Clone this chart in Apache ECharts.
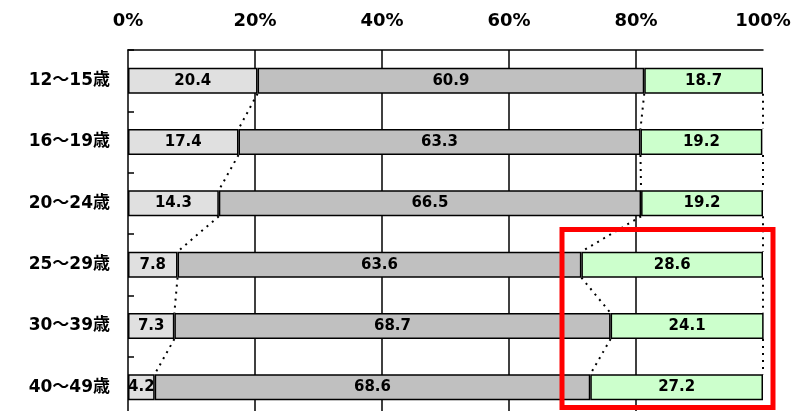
<!DOCTYPE html>
<html>
<head>
<meta charset="utf-8">
<script src="https://cdn.jsdelivr.net/npm/echarts@6/dist/echarts.min.js"></script>
<style>
  html, body { margin: 0; padding: 0; background: #fff; }
  #main { width: 796px; height: 411px; }
</style>
</head>
<body>
<div id="main"></div>
<script>
var categories = ['12～15歳', '16～19歳', '20～24歳', '25～29歳', '30～39歳', '40～49歳'];
var part1 = [20.4, 17.4, 14.3, 7.8, 7.3, 4.2];
var part2 = [60.9, 63.3, 66.5, 63.6, 68.7, 68.6];
var part3 = [18.7, 19.2, 19.2, 28.6, 24.1, 27.2];

var FONT = '"DejaVu Sans", "Noto Sans CJK JP", sans-serif';
var BAR_W = 26;

var chartDom = document.getElementById('main');
var myChart = echarts.init(chartDom);
var option;

// boundaries between segments for each row
function edges(i) {
  return [part1[i], part1[i] + part2[i], 100];
}

var barLabel = {
  show: true,
  position: 'inside',
  color: '#000',
  fontFamily: FONT,
  fontWeight: 'bold',
  fontSize: 15,
  formatter: function (p) { return p.value.toFixed(1); }
};

function barSeries(name, data, color) {
  return {
    name: name,
    type: 'bar',
    stack: 'total',
    barWidth: BAR_W,
    data: data,
    itemStyle: { color: color, borderColor: '#000', borderWidth: 1.5 },
    label: barLabel,
    z: 3
  };
}

option = {
  animation: false,
  grid: { left: 128, right: 33, top: 50, height: 368, outerBoundsMode: 'none' },
  xAxis: {
    type: 'value',
    position: 'top',
    min: 0,
    max: 100,
    interval: 20,
    axisLine: { show: true, lineStyle: { color: '#000', width: 1.5 } },
    axisTick: { show: false },
    axisLabel: {
      margin: 20,
      color: '#000',
      fontFamily: FONT,
      fontWeight: 'bold',
      fontSize: 18,
      formatter: function (v) { return v + '%'; }
    },
    splitLine: {
      show: true,
      showMinLine: false,
      showMaxLine: false,
      lineStyle: { color: '#000', width: 1.5 }
    }
  },
  yAxis: {
    type: 'category',
    inverse: true,
    data: categories,
    axisLine: { show: true, lineStyle: { color: '#000', width: 1.5 } },
    axisTick: { show: true, inside: true, length: 6, lineStyle: { color: '#000', width: 1.5 } },
    axisLabel: {
      margin: 18,
      color: '#000',
      fontFamily: FONT,
      fontWeight: 'bold',
      fontSize: 17
    }
  },
  series: [
    barSeries('a', part1, '#e0e0e0'),
    barSeries('b', part2, '#c0c0c0'),
    barSeries('c', part3, '#ccffcc'),
    {
      type: 'custom',
      name: 'connectors',
      data: categories.slice(0, -1).map(function (c, i) { return [0, i]; }),
      encode: { x: 0, y: 1 },
      z: 4,
      silent: true,
      renderItem: function (params, api) {
        var i = params.dataIndex;
        var from = edges(i);
        var to = edges(i + 1);
        var children = from.map(function (v, k) {
          var p1 = api.coord([v, i]);
          var p2 = api.coord([to[k], i + 1]);
          return {
            type: 'line',
            shape: { x1: p1[0], y1: p1[1] + BAR_W / 2, x2: p2[0], y2: p2[1] - BAR_W / 2 },
            style: { stroke: '#000', lineWidth: 2, lineDash: [2, 5] }
          };
        });
        return { type: 'group', children: children };
      }
    }
  ],
  graphic: [
    {
      type: 'rect',
      shape: { x: 562, y: 229.5, width: 211, height: 178 },
      style: { fill: 'none', stroke: '#ff0000', lineWidth: 5 },
      z: 100
    }
  ]
};

option && myChart.setOption(option);
</script>
</body>
</html>
